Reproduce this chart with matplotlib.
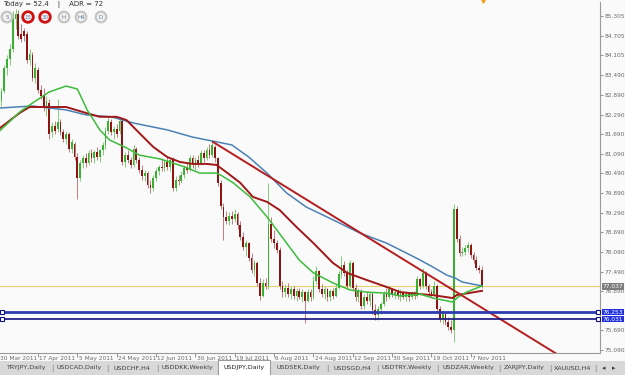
import numpy as np
import matplotlib.pyplot as plt
import matplotlib.transforms as mtransforms
from matplotlib.patches import Circle, Rectangle

# daily OHLC, USDJPY (one entry per bar)
opens = [82.70, 83.00, 83.70, 84.00, 84.30, 85.20, 85.35, 84.75, 84.85, 84.75,
         83.95, 84.10, 83.40, 83.65, 83.05, 82.90, 82.50, 82.65, 81.75, 81.95,
         81.85, 82.05, 81.75, 81.55, 81.70, 81.25, 81.40, 81.00, 80.35, 80.80,
         80.95, 80.80, 81.10, 80.95, 81.15, 81.00, 81.20, 81.35, 81.80, 82.05,
         81.75, 81.85, 81.80, 82.10, 80.85, 81.05, 80.90, 80.75, 81.25, 80.90,
         80.60, 80.40, 80.50, 80.15, 80.05, 80.35, 80.55, 80.70, 80.65, 80.85,
         80.70, 80.90, 80.05, 80.30, 80.25, 80.45, 80.65, 80.60, 80.95, 80.75,
         80.90, 80.80, 81.10, 80.95, 81.20, 81.05, 81.30, 80.95, 80.20, 79.45,
         79.15, 79.05, 79.20, 79.10, 79.25, 78.90, 78.55, 78.25, 78.35, 77.90,
         77.55, 77.75, 77.15, 76.75, 77.15, 77.05, 78.95, 78.50, 78.35, 78.15,
         77.05, 76.85, 77.00, 76.80, 76.95, 76.75, 76.90, 76.70, 76.85, 76.60,
         76.85, 76.70, 77.20, 77.50, 76.95, 76.80, 76.95, 76.70, 76.90, 76.75,
         77.00, 77.40, 77.70, 77.45, 77.05, 77.75, 77.00, 76.70, 76.90, 76.45,
         76.70, 76.60, 76.80, 76.30, 76.15, 76.35, 76.50, 76.80, 76.70, 76.95,
         76.80, 76.85, 76.75, 76.85, 76.70, 76.80, 76.70, 76.85, 76.75, 77.25,
         77.05, 77.45, 77.05, 76.85, 76.80, 77.05, 76.35, 76.05, 76.20, 75.95,
         75.80, 75.70, 79.40, 78.50, 78.05, 78.10, 78.20, 78.30, 78.00, 77.85,
         77.60, 77.55]
highs = [83.10, 83.80, 84.10, 84.45, 85.45, 85.52, 85.50, 85.05, 84.95, 84.85,
         84.30, 84.20, 83.85, 83.75, 83.20, 83.10, 82.85, 82.75, 82.05, 82.10,
         82.75, 82.15, 81.85, 81.80, 81.75, 81.55, 81.45, 81.10, 80.90, 81.05,
         81.10, 81.20, 81.25, 81.20, 81.30, 81.25, 81.45, 81.90, 82.20, 82.15,
         81.95, 82.00, 82.20, 82.15, 81.15, 81.20, 81.00, 81.35, 81.30, 81.00,
         80.75, 80.60, 80.55, 80.30, 80.45, 80.65, 80.75, 80.95, 80.90, 81.00,
         80.95, 81.00, 80.40, 80.45, 80.55, 80.75, 80.85, 81.05, 81.05, 81.00,
         81.05, 81.20, 81.20, 81.30, 81.40, 81.50, 81.35, 81.00, 80.30, 79.60,
         79.35, 79.30, 79.35, 79.40, 79.30, 79.05, 78.70, 78.45, 78.40, 78.05,
         77.85, 77.80, 77.30, 77.25, 77.30, 80.20, 79.15, 78.75, 78.45, 78.25,
         77.20, 77.10, 77.15, 77.05, 77.05, 77.00, 77.00, 76.95, 76.90, 76.95,
         76.95, 77.35, 77.65, 77.55, 77.10, 77.05, 77.00, 76.95, 77.00, 77.10,
         77.50, 77.95, 77.80, 77.55, 77.85, 77.80, 77.10, 77.00, 76.95, 76.80,
         76.90, 76.85, 76.85, 76.50, 76.45, 76.55, 76.90, 77.00, 77.05, 77.00,
         76.95, 76.95, 76.95, 76.90, 76.90, 76.85, 76.90, 76.90, 77.35, 77.30,
         77.60, 77.50, 77.10, 76.95, 77.20, 77.10, 76.45, 76.30, 76.25, 76.10,
         76.00, 79.55, 79.50, 78.60, 78.25, 78.30, 78.40, 78.35, 78.10, 77.95,
         77.70, 77.65]
lows = [82.55, 82.95, 83.50, 83.80, 84.20, 84.90, 84.60, 84.50, 84.55, 83.85,
        83.80, 83.30, 83.25, 82.95, 82.75, 82.40, 82.25, 81.55, 81.60, 81.70,
        81.75, 81.65, 81.45, 81.40, 81.15, 81.10, 80.90, 79.70, 80.25, 80.65,
        80.70, 80.75, 80.85, 80.80, 80.90, 80.85, 81.05, 81.25, 81.70, 81.65,
        81.55, 81.60, 81.70, 80.75, 80.70, 80.80, 80.65, 80.70, 80.80, 80.50,
        80.30, 80.25, 80.05, 79.90, 79.95, 80.25, 80.45, 80.55, 80.55, 80.60,
        80.55, 79.95, 79.95, 80.15, 80.20, 80.35, 80.50, 80.55, 80.65, 80.60,
        80.70, 80.75, 80.85, 80.90, 80.95, 81.00, 80.85, 80.10, 79.40, 78.45,
        78.95, 78.90, 78.95, 79.00, 78.80, 78.45, 78.15, 77.95, 77.80, 77.45,
        77.35, 77.05, 76.62, 76.70, 76.95, 76.95, 78.40, 78.20, 78.05, 76.95,
        76.70, 76.70, 76.70, 76.65, 76.65, 76.60, 76.65, 76.55, 75.92, 76.55,
        76.60, 76.65, 77.10, 76.85, 76.70, 76.65, 76.60, 76.60, 76.65, 76.70,
        76.95, 77.30, 77.35, 76.95, 77.00, 76.90, 76.60, 76.55, 76.35, 76.35,
        76.50, 76.45, 76.20, 76.00, 76.00, 76.20, 76.45, 76.60, 76.65, 76.70,
        76.65, 76.65, 76.60, 76.65, 76.60, 76.60, 76.65, 76.65, 76.70, 76.95,
        77.00, 76.95, 76.75, 76.70, 76.75, 76.25, 75.95, 75.90, 75.85, 75.70,
        75.60, 75.35, 78.40, 77.95, 77.95, 78.00, 78.10, 77.90, 77.75, 77.55,
        77.45, 77.00]
closes = [83.00, 83.70, 84.00, 84.30, 85.25, 85.35, 84.70, 84.60, 84.70, 83.95,
          84.15, 83.40, 83.70, 83.05, 82.85, 82.50, 82.70, 81.70, 81.95, 81.80,
          82.05, 81.75, 81.55, 81.70, 81.25, 81.45, 81.00, 80.35, 80.80, 80.95,
          80.80, 81.10, 80.95, 81.15, 81.00, 81.20, 81.35, 81.80, 82.10, 81.75,
          81.85, 81.70, 82.10, 80.85, 81.05, 80.90, 80.75, 81.25, 80.90, 80.60,
          80.40, 80.50, 80.15, 80.05, 80.35, 80.55, 80.70, 80.65, 80.85, 80.70,
          80.90, 80.05, 80.30, 80.25, 80.45, 80.65, 80.60, 80.95, 80.75, 80.90,
          80.80, 81.10, 80.95, 81.20, 81.05, 81.35, 80.95, 80.20, 79.50, 79.15,
          79.05, 79.20, 79.10, 79.25, 78.90, 78.55, 78.25, 78.35, 77.90, 77.55,
          77.75, 77.15, 76.75, 77.15, 77.05, 78.95, 78.50, 78.35, 78.15, 77.05,
          76.85, 77.00, 76.80, 76.95, 76.75, 76.90, 76.70, 76.85, 76.60, 76.85,
          76.70, 77.20, 77.50, 76.95, 76.80, 76.95, 76.70, 76.90, 76.75, 77.00,
          77.40, 77.70, 77.45, 77.05, 77.75, 77.00, 76.70, 76.90, 76.45, 76.70,
          76.60, 76.80, 76.30, 76.15, 76.35, 76.50, 76.80, 76.70, 76.95, 76.80,
          76.85, 76.75, 76.85, 76.70, 76.80, 76.70, 76.85, 76.75, 77.25, 77.05,
          77.45, 77.05, 76.85, 76.80, 77.05, 76.35, 76.05, 76.20, 75.95, 75.80,
          75.70, 79.40, 78.50, 78.05, 78.10, 78.20, 78.30, 78.00, 77.85, 77.60,
          77.55, 77.04]

# moving averages, read at sampled bars
ma_slow_idx = [-0.5, 11, 23, 30, 39, 47, 59, 68, 75, 82, 88, 94.5, 101.5, 108.5,
               118, 127.5, 137, 144, 149, 153.5, 158.5, 161.5, 164, 171]
ma_slow = [82.49, 82.55, 82.43, 82.28, 82.22, 82.03, 81.82, 81.60, 81.48, 81.36,
           80.99, 80.50, 79.89, 79.46, 79.07, 78.67, 78.36, 78.06, 77.84, 77.63,
           77.38, 77.29, 77.17, 77.05]
ma_mid_idx = [-0.5, 6.5, 10, 17, 23, 30, 35, 41, 44.5, 49, 54, 59, 63.5, 68, 73,
              76.5, 80, 85, 89.5, 94.5, 99, 105, 111, 118, 123, 130, 137, 142,
              149, 153.5, 160.5, 162, 171]
ma_mid = [81.88, 82.34, 82.52, 82.52, 82.52, 82.34, 82.22, 82.22, 82.12, 81.73,
          81.30, 80.99, 80.84, 80.78, 80.78, 80.75, 80.53, 80.20, 79.77, 79.62,
          79.37, 78.85, 78.36, 77.75, 77.45, 77.23, 77.02, 76.86, 76.80, 76.77,
          76.68, 76.77, 76.90]
ma_fast_idx = [-0.5, 6.5, 11, 17, 23, 27, 30.5, 35, 38.5, 44.5, 49, 56.5, 61, 66,
               70.5, 76.5, 78, 82.5, 88.5, 94.5, 98, 102.5, 106, 111, 118, 124,
               130, 137, 142, 149, 153.5, 160.5, 162.5, 165.5, 171]
ma_fast = [81.80, 82.37, 82.64, 82.98, 83.16, 83.07, 82.43, 81.82, 81.51, 81.27,
           81.05, 80.93, 80.81, 80.66, 80.50, 80.50, 80.44, 80.20, 79.77, 79.16,
           78.76, 78.24, 77.84, 77.45, 77.14, 76.93, 76.86, 76.83, 76.74, 76.80,
           76.68, 76.56, 76.71, 76.86, 77.05]

# trend line anchors (bar, price) and horizontal levels
trend_idx = [75.3, 194.8]
trend_price = [81.45, 75.12]
bid = 77.037
level_hi = 76.253
level_lo = 76.031

price_ticks = [85.305, 84.705, 84.105, 83.490, 82.890, 82.290, 81.690, 81.090,
               80.490, 79.890, 79.290, 78.690, 78.090, 77.490, 76.890, 75.690, 75.090]
date_idx = [-1, 13, 27, 41, 55, 69, 83, 97, 111, 125, 139, 153, 167]
date_labels = ['30 Mar 2011', '17 Apr 2011', '5 May 2011', '24 May 2011', '12 Jun 2011',
               '30 Jun 2011', '19 Jul 2011', '6 Aug 2011', '24 Aug 2011', '12 Sep 2011',
               '30 Sep 2011', '19 Oct 2011', '7 Nov 2011']
tabs = ['TRYJPY,Daily', 'USDCAD,Daily', 'USDCHF,H4', 'USDDKK,Weekly', 'USDJPY,Daily',
        'USDSEK,Daily', 'USDSGD,H4', 'USDTRY,Weekly', 'USDZAR,Weekly', 'ZARJPY,Daily',
        'XAUUSD,H4']
tab_edges = [0, 52, 107, 157, 218, 270, 327, 377, 437, 499, 550, 595]
buttons = ['5', '15', '30', 'H', 'H4', 'D']
button_on = [False, True, True, False, False, False]

bg = '#fafafa'
fig = plt.figure(figsize=(6.25, 3.75), dpi=100, facecolor=bg)
ax = fig.add_axes([0, 22 / 375, 600 / 625, 351 / 375])
ax.set_facecolor(bg)

o = np.array(opens); h = np.array(highs); l = np.array(lows); c = np.array(closes)
x = np.arange(len(c))
up = c >= o
ax.vlines(x[up], l[up], h[up], color='#84cc7c', lw=0.7, zorder=2)
ax.vlines(x[~up], l[~up], h[~up], color='#c47c7c', lw=0.7, zorder=2)
body = np.maximum(np.abs(c - o), 0.02)
low_body = np.minimum(o, c)
ax.bar(x[up], body[up], bottom=low_body[up], width=0.62, color='#38b030', lw=0, zorder=3)
ax.bar(x[~up], body[~up], bottom=low_body[~up], width=0.62, color='#8e1414', lw=0, zorder=3)

ax.plot(ma_slow_idx, ma_slow, color='#4a82b4', lw=1.1, zorder=4)
ax.plot(ma_mid_idx, ma_mid, color='#a01818', lw=1.4, zorder=4)
ax.plot(ma_fast_idx, ma_fast, color='#3cbc3c', lw=1.1, zorder=4)

# trend line as a ray to the right
slope = (trend_price[1] - trend_price[0]) / (trend_idx[1] - trend_idx[0])
x_end = 220
ax.plot([trend_idx[0], x_end], [trend_price[0], trend_price[0] + slope * (x_end - trend_idx[0])],
        color='#b41e1e', lw=1.4, zorder=5)

ax.axhline(bid, color='#e6cf6e', lw=0.8, zorder=1)
ax.axhline(level_hi, color='#2c3cb0', lw=2.0, zorder=5)
ax.axhline(level_lo, color='#12127e', lw=1.2, zorder=5)
bt = mtransforms.blended_transform_factory(ax.transAxes, ax.transData)
for lv in (level_hi, level_lo):
    ax.plot([0.004, 0.996], [lv, lv], transform=bt, ls='none', marker='s', ms=3,
            mfc='white', mec='#12127e', mew=0.8, zorder=6, clip_on=False)

ax.set_xlim(-0.53, 213.0)
ax.set_ylim(75.00, 85.73)

ax.yaxis.tick_right()
ax.set_yticks(price_ticks)
ax.set_yticklabels(['%.3f' % v for v in price_ticks])
ax.tick_params(axis='y', length=2, width=0.6, color='#808080', labelsize=4.2,
               labelcolor='#6a6a6a', pad=1)
vis = [d for d in date_idx if d >= 0]
ax.set_xticks(vis)
ax.set_xticklabels([])
ax.tick_params(axis='x', length=3, width=0.6, color='#808080')
xt = mtransforms.blended_transform_factory(ax.transData, ax.transAxes)
for d, lab in zip(date_idx, date_labels):
    ax.text(d + 0.5, -0.008, lab, transform=xt, fontsize=4.2, color='#6a6a6a',
            ha='left', va='top', clip_on=False)
for s in ('left', 'top'):
    ax.spines[s].set_visible(False)
for s in ('right', 'bottom'):
    ax.spines[s].set_color('#9a9a9a')
    ax.spines[s].set_linewidth(0.8)

# price boxes on the axis
for lv, fc in ((bid, '#7c7c7c'), (level_hi, '#2233dd'), (level_lo, '#2233dd')):
    ax.text(1.005, lv, '%.3f' % lv, transform=bt, fontsize=4.2, color='white',
            ha='left', va='center', zorder=7, clip_on=False,
            bbox=dict(boxstyle='square,pad=0.12', fc=fc, ec='none'))

# overlay in pixel coordinates for the terminal decorations
ov = fig.add_axes([0, 0, 1, 1], zorder=10)
ov.set_xlim(0, 625)
ov.set_ylim(375, 0)
ov.axis('off')
ov.patch.set_alpha(0)

ov.text(3, 4, 'Today = 52.4    |    ADR = 72', fontsize=5, color='#303030', va='center', ha='left')
button_x = [7, 28, 45, 64, 81, 101]
for cx, lab, on in zip(button_x, buttons, button_on):
    ov.add_patch(Circle((cx, 17), 5.3, fc='#f2f2f2', ec='#d01010' if on else '#c4c4c4',
                        lw=2.0 if on else 1.6))
    ov.text(cx, 17.3, lab, fontsize=4, color='#5a7a9a', ha='center', va='center')
ov.plot([483], [1.2], marker='v', color='#f0a020', ms=2.5)

ov.add_patch(Rectangle((0, 361), 625, 14, fc='#d8d8d8', ec='none'))
ov.add_patch(Rectangle((tab_edges[4], 360), tab_edges[5] - tab_edges[4], 15,
                       fc='white', ec='#8a8a8a', lw=0.6))
for k, lab in enumerate(tabs):
    mid = (tab_edges[k] + tab_edges[k + 1]) / 2
    ov.text(mid, 368, lab, fontsize=4.6, color='#202020' if k == 4 else '#404040',
            ha='center', va='center')
    if k not in (3, 4):
        ov.text(tab_edges[k + 1], 368, '|', fontsize=5, color='#808080', ha='center', va='center')
ov.text(604, 368, '\u25c2', fontsize=5, color='#404040', ha='center', va='center')
ov.text(614, 368, '\u25b8', fontsize=5, color='#404040', ha='center', va='center')

fig.savefig('out.png', dpi=100, facecolor=bg)
